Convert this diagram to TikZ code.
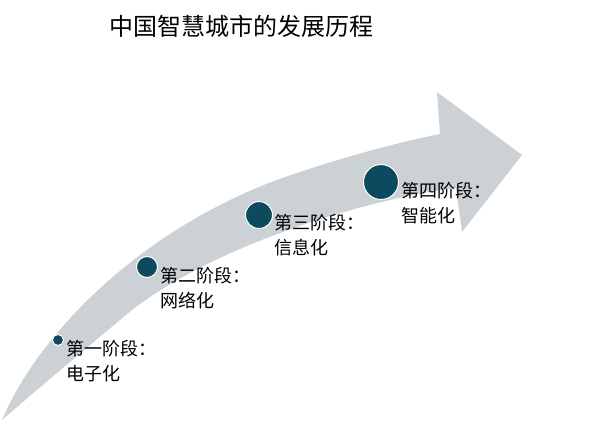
\documentclass[tikz,border=0pt]{standalone}
\usepackage{fontspec}
\newfontfamily\cjk{Noto Sans CJK SC}
\definecolor{arrowgrey}{HTML}{CBD1D5}
\definecolor{dotteal}{HTML}{0E4A5E}
\begin{document}
\begin{tikzpicture}[x=1pt,y=-1pt,
  dot/.style={circle,fill=dotteal,draw=white,line width=1pt,inner sep=0pt},
  lab/.style={anchor=north west,align=left,font=\cjk\fontsize{18}{25}\selectfont,inner sep=0pt}]
\useasboundingbox (0,0) rectangle (600,435);
\node[anchor=west,font=\cjk\fontsize{24}{28}\selectfont] (t) at (106,26) {中国智慧城市的发展历程};
\fill[arrowgrey] (2,420)
  .. controls (40,330) and (150,220) .. (300,172)
  .. controls (360,152) and (410,140) .. (440,134)
  -- (437,92) -- (522,155) -- (462,232) -- (456,188)
  .. controls (360,200) and (200,250) .. (120,320)
  .. controls (60,370) and (25,400) .. (2,420) -- cycle;
\node[dot,minimum size=11pt] (c1) at (58,340) {};
\node[dot,minimum size=21pt] (c2) at (147,267) {};
\node[dot,minimum size=27pt] (c3) at (259,215) {};
\node[dot,minimum size=35pt] (c4) at (381,182) {};
\node[lab] (l1) at (66,340) {第一阶段：\\电子化};
\node[lab] (l2) at (160,267) {第二阶段：\\网络化};
\node[lab] (l3) at (274,214) {第三阶段：\\信息化};
\node[lab] (l4) at (401,182) {第四阶段：\\智能化};
\end{tikzpicture}
\end{document}
